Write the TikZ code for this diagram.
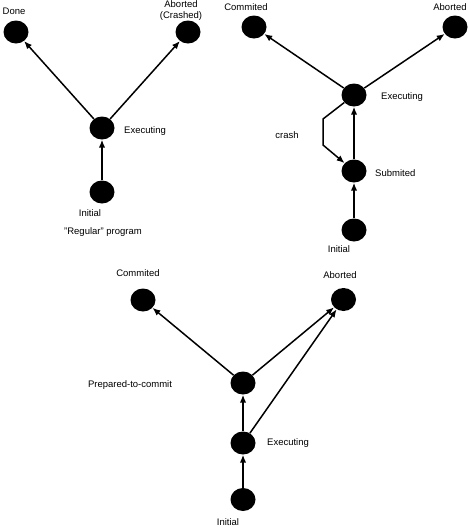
\documentclass[tikz,border=0pt]{standalone}
\usepackage{fontspec}
\setmainfont{Liberation Sans}
\usetikzlibrary{shapes.geometric,arrows.meta}

\begin{document}
\begin{tikzpicture}[x=1pt, y=-1pt]
\tikzset{state/.style={ellipse, fill=black, inner sep=0pt, minimum width=25pt, minimum height=23pt}}
\tikzset{lbl/.style={font=\fontsize{9.5}{11}\selectfont, inner sep=0pt, align=center}}
\tikzset{arr/.style={draw, line width=1.5pt, -{Latex[length=8pt,width=6.5pt]}}}
\useasboundingbox (0,0) rectangle (469,528);
% regular program
\node[state] (done) at (16,32) {};
\node[state] (crashed) at (188,32) {};
\node[state] (exec) at (102,128) {};
\node[state] (init) at (102,192) {};
\node[lbl] (doneL) at (14,11) {Done};
\node[lbl] (crashedL) at (181,10.5) {Aborted\\(Crashed)};
\node[lbl, anchor=west] (execL) at (124,131) {Executing};
\node[lbl] (initL) at (90,213) {Initial};
\node[lbl] (regL) at (103,232) {"Regular" program};
\draw[arr] (init) -- (exec);
\draw[arr] (exec) -- (done);
\draw[arr] (exec) -- (crashed);
% transaction
\node[state] (commit) at (254,27) {};
\node[state] (abort) at (455,27) {};
\node[state] (exec2) at (354,95) {};
\node[state] (sub) at (354,171) {};
\node[state] (init2) at (354,230) {};
\node[lbl] (commitL) at (246,7) {Commited};
\node[lbl] (abortL) at (450,7) {Aborted};
\node[lbl, anchor=west] (exec2L) at (381,97) {Executing};
\node[lbl, anchor=west] (subL) at (375,173) {Submited};
\node[lbl] (init2L) at (339,249) {Initial};
\node[lbl] (crashL) at (287,135) {crash};
\coordinate (c1) at (323,119);
\coordinate (c2) at (323,145);
\draw[arr] (init2) -- (sub);
\draw[arr] (sub) -- (exec2);
\draw[arr] (exec2) -- (commit);
\draw[arr] (exec2) -- (abort);
\draw[arr] (exec2) -- (c1) -- (c2) -- (sub);
% two-phase commit
\node[state] (commit3) at (143,300) {};
\node[state] (abort3) at (343.5,299.5) {};
\node[state] (prep) at (243,383) {};
\node[state] (exec3) at (243,443) {};
\node[state] (init3) at (243,499.5) {};
\node[lbl] (commit3L) at (138,273) {Commited};
\node[lbl] (abort3L) at (340,275) {Aborted};
\node[lbl] (prepL) at (130,385) {Prepared-to-commit};
\node[lbl, anchor=west] (exec3L) at (267,443) {Executing};
\node[lbl] (init3L) at (228,522) {Initial};
\draw[arr] (init3) -- (exec3);
\draw[arr] (exec3) -- (prep);
\draw[arr] (prep) -- (commit3);
\draw[arr] (prep) -- (abort3);
\draw[arr] (exec3) -- (abort3);
\end{tikzpicture}
\end{document}
